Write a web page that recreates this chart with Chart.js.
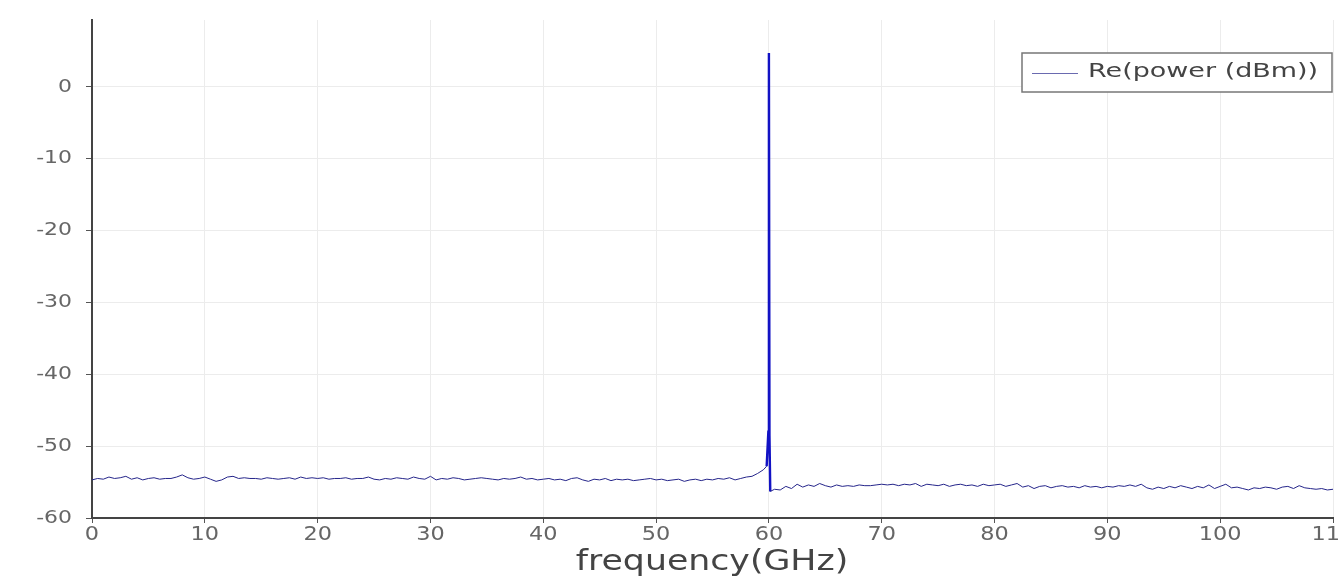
<!DOCTYPE html>
<html><head><meta charset="UTF-8">
<title>Re(power (dBm))</title>
<script src="https://cdn.jsdelivr.net/npm/chart.js"></script>
<style>
html,body{margin:0;padding:0;background:#fff;overflow:hidden;width:1338px;height:577px}
#wrap{width:1350px;height:577px}
</style>
</head><body>
<div id="wrap"><canvas id="c" width="1350" height="577"></canvas></div>
<script>
// frequencies (GHz) left of the tone, the tone itself, and right of it
const freqLow = [0,0.5,1,1.5,2,2.5,3,3.5,4,4.5,5,5.5,6,6.5,7,7.5,8,8.5,9,9.5,
  10,10.5,11,11.5,12,12.5,13,13.5,14,14.5,15,15.5,16,16.5,17,17.5,18,18.5,19,19.5,
  20,20.5,21,21.5,22,22.5,23,23.5,24,24.5,25,25.5,26,26.5,27,27.5,28,28.5,29,29.5,
  30,30.5,31,31.5,32,32.5,33,33.5,34,34.5,35,35.5,36,36.5,37,37.5,38,38.5,39,39.5,
  40,40.5,41,41.5,42,42.5,43,43.5,44,44.5,45,45.5,46,46.5,47,47.5,48,48.5,49,49.5,
  50,50.5,51,51.5,52,52.5,53,53.5,54,54.5,55,55.5,56,56.5,57,57.5,58,58.5,59,59.5];
const powerLow = [-54.7,-54.5,-54.6,-54.3,-54.5,-54.4,-54.2,-54.6,-54.4,-54.7,-54.5,-54.4,-54.6,-54.5,-54.5,-54.3,-54.0,-54.4,-54.6,-54.5,
  -54.3,-54.6,-54.9,-54.7,-54.3,-54.2,-54.5,-54.4,-54.5,-54.5,-54.6,-54.4,-54.5,-54.6,-54.5,-54.4,-54.6,-54.3,-54.5,-54.4,
  -54.5,-54.4,-54.6,-54.5,-54.5,-54.4,-54.6,-54.5,-54.5,-54.3,-54.6,-54.7,-54.5,-54.6,-54.4,-54.5,-54.6,-54.3,-54.5,-54.6,
  -54.2,-54.7,-54.5,-54.6,-54.4,-54.5,-54.7,-54.6,-54.5,-54.4,-54.5,-54.6,-54.7,-54.5,-54.6,-54.5,-54.3,-54.6,-54.5,-54.7,
  -54.6,-54.5,-54.7,-54.6,-54.8,-54.5,-54.4,-54.7,-54.9,-54.6,-54.7,-54.5,-54.8,-54.6,-54.7,-54.6,-54.8,-54.7,-54.6,-54.5,
  -54.7,-54.6,-54.8,-54.7,-54.6,-54.9,-54.7,-54.6,-54.8,-54.6,-54.7,-54.5,-54.6,-54.4,-54.7,-54.5,-54.3,-54.2,-53.8,-53.3];

const freqPeak  = [59.8, 59.95, 60.0, 60.05, 60.12];
const powerPeak = [-52.8, -48.0, 4.7, -48.5, -56.3];

const freqHigh = [60.5,61,61.5,62,62.5,63,63.5,64,64.5,65,65.5,66,66.5,67,67.5,68,68.5,69,69.5,70,
  70.5,71,71.5,72,72.5,73,73.5,74,74.5,75,75.5,76,76.5,77,77.5,78,78.5,79,79.5,80,
  80.5,81,81.5,82,82.5,83,83.5,84,84.5,85,85.5,86,86.5,87,87.5,88,88.5,89,89.5,90,
  90.5,91,91.5,92,92.5,93,93.5,94,94.5,95,95.5,96,96.5,97,97.5,98,98.5,99,99.5,100,
  100.5,101,101.5,102,102.5,103,103.5,104,104.5,105,105.5,106,106.5,107,107.5,108,108.5,109,109.5,110];
const powerHigh = [-56.0,-56.1,-55.6,-55.9,-55.3,-55.7,-55.4,-55.6,-55.2,-55.5,-55.7,-55.4,-55.6,-55.5,-55.6,-55.4,-55.5,-55.5,-55.4,-55.3,
  -55.4,-55.3,-55.5,-55.3,-55.4,-55.2,-55.6,-55.3,-55.4,-55.5,-55.3,-55.6,-55.4,-55.3,-55.5,-55.4,-55.6,-55.3,-55.5,-55.4,
  -55.3,-55.6,-55.4,-55.2,-55.7,-55.5,-55.9,-55.6,-55.5,-55.8,-55.6,-55.5,-55.7,-55.6,-55.8,-55.5,-55.7,-55.6,-55.8,-55.6,
  -55.7,-55.5,-55.6,-55.4,-55.6,-55.3,-55.8,-56.0,-55.7,-55.9,-55.6,-55.8,-55.5,-55.7,-55.9,-55.6,-55.8,-55.4,-55.9,-55.6,
  -55.3,-55.8,-55.7,-55.9,-56.1,-55.8,-55.9,-55.7,-55.8,-56.0,-55.7,-55.6,-55.9,-55.5,-55.8,-55.9,-56.0,-55.9,-56.1,-56.0];

const xTicks = [0,10,20,30,40,50,60,70,80,90,100,110];
const yTicks = [-60,-50,-40,-30,-20,-10,0];
const xTitle = 'frequency(GHz)';

const freqs = [...freqLow, ...freqPeak, ...freqHigh];
const powers = [...powerLow, ...powerPeak, ...powerHigh];
const points = freqs.map((f, i) => ({x: f, y: powers[i]}));

const FONT = '"DejaVu Sans", Verdana, sans-serif';

// the original picture has wide, stretched lettering
function wideText(ctx, text, x, y, align, sx) {
  ctx.save();
  ctx.translate(x, y);
  ctx.scale(sx, 1);
  ctx.textAlign = align;
  ctx.fillText(text, 0, 0);
  ctx.restore();
}

const wideLabels = {
  id: 'wideLabels',
  afterDraw(chart) {
    const {ctx, chartArea, scales} = chart;
    ctx.save();
    ctx.textBaseline = 'middle';
    ctx.fillStyle = '#666';
    ctx.font = '20px ' + FONT;
    xTicks.forEach(v => wideText(ctx, String(v), scales.x.getPixelForValue(v), chartArea.bottom + 17, 'center', 1.12));
    ctx.font = '18px ' + FONT;
    yTicks.forEach(v => wideText(ctx, String(v), chartArea.left - 20, scales.y.getPixelForValue(v), 'right', 1.22));
    ctx.fillStyle = '#444';
    ctx.font = '28px ' + FONT;
    wideText(ctx, xTitle, 712, chartArea.bottom + 45, 'center', 1.24);

    // legend box
    const ds = chart.data.datasets[0];
    const r = chartArea.right - 1, l = r - 310, t = chartArea.top + 33, h = 39;
    ctx.fillStyle = '#fff';
    ctx.fillRect(l, t, r - l, h);
    ctx.strokeStyle = '#777';
    ctx.lineWidth = 1.5;
    ctx.strokeRect(l, t, r - l, h);
    ctx.strokeStyle = '#6a6ab0';
    ctx.lineWidth = 1.2;
    ctx.beginPath();
    ctx.moveTo(l + 10, t + h / 2 + 1);
    ctx.lineTo(l + 56, t + h / 2 + 1);
    ctx.stroke();
    ctx.fillStyle = '#444';
    ctx.font = '19px ' + FONT;
    wideText(ctx, ds.label, l + 66, t + h / 2, 'left', 1.42);
    ctx.restore();
  }
};

new Chart(document.getElementById('c'), {
  type: 'line',
  data: {
    datasets: [{
      label: 'Re(power (dBm))',
      data: points,
      borderColor: '#25258a',
      borderWidth: 1,
      pointRadius: 0,
      tension: 0,
      segment: {
        borderColor: c => (c.p0.parsed.y > -50 || c.p1.parsed.y > -50) ? '#1212c4' : undefined,
        borderWidth: c => (c.p0.parsed.y > -50 || c.p1.parsed.y > -50) ? 2.4 : undefined
      }
    }]
  },
  options: {
    responsive: false,
    animation: false,
    layout: {padding: {top: 20, right: 17, left: 0, bottom: 0}},
    plugins: {legend: {display: false}, tooltip: {enabled: false}},
    scales: {
      x: {
        type: 'linear',
        min: 0, max: 110,
        afterBuildTicks: s => { s.ticks = xTicks.map(v => ({value: v})); },
        afterFit: s => { s.height = 59; },
        ticks: {display: false},
        grid: {color: '#ececec', tickColor: '#555', tickLength: 5, lineWidth: 1},
        border: {color: '#444', width: 2}
      },
      y: {
        min: -60, max: 9.3,
        afterBuildTicks: s => { s.ticks = yTicks.map(v => ({value: v})); },
        afterFit: s => { s.width = 92; },
        ticks: {display: false},
        grid: {color: '#ececec', tickColor: '#555', tickLength: 6, lineWidth: 1},
        border: {color: '#444', width: 2}
      }
    }
  },
  plugins: [wideLabels]
});
</script>
</body></html>
